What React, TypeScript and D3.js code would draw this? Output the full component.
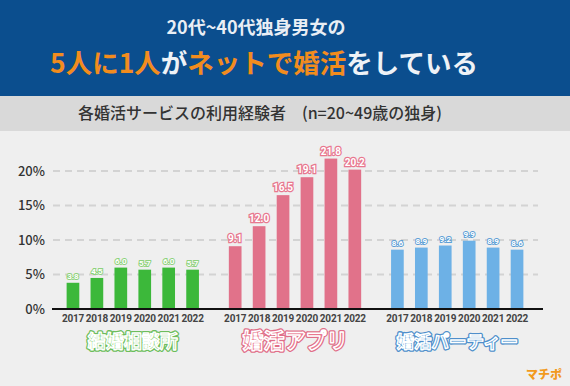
import React from "react";
import * as d3 from "d3";

const years = ["2017", "2018", "2019", "2020", "2021", "2022"];
const categories = ["結婚相談所", "婚活アプリ", "婚活パーティー"];
const soudanjo = [3.8, 4.5, 6.0, 5.7, 6.0, 5.7];
const apuri = [9.1, 12.0, 16.5, 19.1, 21.8, 20.2];
const party = [8.6, 8.9, 9.2, 9.9, 8.9, 8.6];
const yTicks = [0, 5, 10, 15, 20];

const series = [soudanjo, apuri, party];
const barColors = ["#3cb83a", "#e1728a", "#6db1e6"];
const labelColors = ["#8fd27e", "#e8788f", "#5f9fd6"];
const outlineColors = ["#6cbd5c", "#e06e88", "#4f8fcb"];
const catSizes = [18, 21, 17.5];

const W = 570;
const H = 386;
const FONT = "'Noto Sans CJK JP', 'Noto Sans', sans-serif";

export default function App() {
  const y = d3.scaleLinear().domain([0, 20]).range([309, 171]);
  const x0 = d3.scaleBand<string>().domain(categories).range([61, 529]).paddingInner(0.115).paddingOuter(0);
  const x1 = d3.scaleBand<string>().domain(years).range([0, x0.bandwidth()]).paddingInner(0.47).paddingOuter(0.235);

  return (
    <svg width={W} height={H} style={{ position: "absolute", left: 0, top: 0 }} fontFamily={FONT}>
      <rect x={0} y={0} width={W} height={H} fill="#efefef" />
      <rect x={0} y={0} width={W} height={96} fill="#0b4e8e" />
      <rect x={0} y={96} width={W} height={35} fill="#d9d9d9" />
      <text x={256} y={34} textAnchor="middle" fontSize={18} fontWeight={700} fill="#e9eef5">
        20代~40代独身男女の
      </text>
      <text x={264} y={73} textAnchor="middle" fontSize={26.5} fontWeight={700} fill="#eef2f7">
        <tspan fill="#f28c1e">5人に1人</tspan>
        <tspan>が</tspan>
        <tspan fill="#f28c1e">ネットで婚活</tspan>
        <tspan>をしている</tspan>
      </text>
      <text x={260} y={119} textAnchor="middle" fontSize={16} fontWeight={500} fill="#333">
        各婚活サービスの利用経験者　(n=20~49歳の独身)
      </text>

      {yTicks.map((t) => (
        <g key={t}>
          {t > 0 && (
            <line x1={53} x2={538} y1={y(t)} y2={y(t)} stroke="#d3d3d3" strokeWidth={2} strokeDasharray="7 5" />
          )}
          <text x={45} y={y(t) + 4.5} textAnchor="end" fontSize={13} fill="#333" fontWeight={500}>
            {t}%
          </text>
        </g>
      ))}

      {categories.map((c, ci) => (
        <g key={c} transform={`translate(${x0(c)},0)`}>
          {years.map((yr, i) => {
            const v = series[ci][i];
            const bx = x1(yr)!;
            const cx = bx + x1.bandwidth() / 2;
            return (
              <g key={yr}>
                <rect x={bx} y={y(v)} width={x1.bandwidth()} height={y(0) - y(v)} fill={barColors[ci]} />
                <text
                  x={cx}
                  y={y(v) - 4}
                  textAnchor="middle"
                  fontSize={ci === 1 ? 10 : 8}
                  fontWeight={700}
                  fill="#fff"
                  stroke={labelColors[ci]}
                  strokeWidth={ci === 1 ? 2.5 : 2}
                  paintOrder="stroke"
                  fontFamily="Roboto, sans-serif"
                >
                  {v.toFixed(1)}
                </text>
                <text
                  x={cx}
                  y={322}
                  textAnchor="middle"
                  fontSize={10}
                  fontWeight={700}
                  fill="#444"
                  fontFamily="Roboto, sans-serif"
                  letterSpacing={-0.2}
                >
                  {yr}
                </text>
              </g>
            );
          })}
          <text
            x={x0.bandwidth() / 2}
            y={348}
            textAnchor="middle"
            fontSize={catSizes[ci]}
            fontWeight={700}
            fill={labelColors[ci]}
            stroke={outlineColors[ci]}
            strokeWidth={4}
            strokeLinejoin="round"
          >
            {c}
          </text>
          <text
            x={x0.bandwidth() / 2}
            y={348}
            textAnchor="middle"
            fontSize={catSizes[ci]}
            fontWeight={700}
            fill={labelColors[ci]}
            stroke="#fff"
            strokeWidth={1.4}
            strokeLinejoin="round"
          >
            {c}
          </text>
        </g>
      ))}

      <line x1={52} x2={543} y1={y(0)} y2={y(0)} stroke="#111" strokeWidth={2} />

      <text x={562} y={379} textAnchor="end" fontSize={12} fontWeight={900} fill="#f29a1e">
        マチポ
      </text>
    </svg>
  );
}
